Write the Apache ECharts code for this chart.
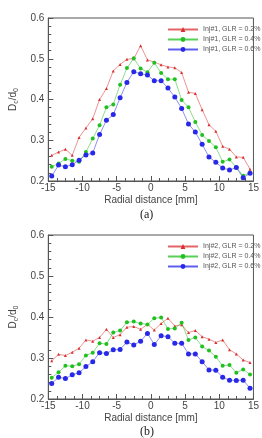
<!DOCTYPE html>
<html>
<head>
<meta charset="utf-8">
<script src="https://cdn.jsdelivr.net/npm/echarts@6/dist/echarts.min.js"></script>
<style>
  html, body { margin: 0; padding: 0; background: #fff; }
  #main { width: 262px; height: 438px; }
</style>
</head>
<body>
<div id="main"></div>
<script>
// radial positions [mm]
var radial = [-14.5, -13.5, -12.5, -11.5, -10.5, -9.5, -8.5, -7.5, -6.5, -5.5,
              -4.5, -3.5, -2.5, -1.5, -0.5, 0.5, 1.5, 2.5, 3.5, 4.5,
              5.5, 6.5, 7.5, 8.5, 9.5, 10.5, 11.5, 12.5, 13.5, 14.5];

// (a) Inj#1
var inj1_glr02 = [0.263, 0.271, 0.278, 0.263, 0.307, 0.330, 0.353, 0.400, 0.427, 0.470,
                  0.486, 0.499, 0.500, 0.532, 0.497, 0.492, 0.485, 0.480, 0.478, 0.466,
                  0.418, 0.415, 0.375, 0.338, 0.322, 0.285, 0.278, 0.259, 0.258, 0.229];
var inj1_glr04 = [0.235, 0.243, 0.254, 0.250, 0.247, 0.271, 0.304, 0.337, 0.381, 0.388,
                  0.436, 0.477, 0.501, 0.476, 0.467, 0.490, 0.465, 0.450, 0.450, 0.399,
                  0.381, 0.345, 0.313, 0.298, 0.283, 0.247, 0.253, 0.233, 0.213, 0.220];
var inj1_glr06 = [0.212, 0.239, 0.235, 0.240, 0.251, 0.264, 0.269, 0.314, 0.349, 0.363,
                  0.404, 0.442, 0.468, 0.463, 0.460, 0.446, 0.446, 0.428, 0.406, 0.378,
                  0.340, 0.320, 0.290, 0.259, 0.246, 0.232, 0.227, 0.233, 0.208, 0.219];

// (b) Inj#2
var inj2_glr02 = [0.293, 0.309, 0.306, 0.314, 0.324, 0.344, 0.341, 0.350, 0.370, 0.350,
                  0.357, 0.375, 0.377, 0.370, 0.382, 0.368, 0.384, 0.397, 0.378, 0.381,
                  0.362, 0.367, 0.352, 0.346, 0.338, 0.344, 0.320, 0.310, 0.295, 0.289];
var inj2_glr04 = [0.252, 0.265, 0.281, 0.280, 0.285, 0.306, 0.313, 0.336, 0.334, 0.362,
                  0.367, 0.387, 0.389, 0.384, 0.382, 0.397, 0.399, 0.371, 0.372, 0.386,
                  0.344, 0.350, 0.328, 0.318, 0.303, 0.281, 0.283, 0.264, 0.272, 0.260];
var inj2_glr06 = [0.238, 0.253, 0.250, 0.259, 0.264, 0.279, 0.291, 0.313, 0.311, 0.320,
                  0.321, 0.339, 0.332, 0.341, 0.360, 0.333, 0.354, 0.352, 0.336, 0.336,
                  0.310, 0.310, 0.291, 0.271, 0.270, 0.253, 0.246, 0.245, 0.246, 0.226];

var xTicks = [-15, -10, -5, 0, 5, 10, 15];
var yTicks = [0.2, 0.3, 0.4, 0.5, 0.6];

function pairs(vals) {
    return radial.map(function (x, i) { return [x, vals[i]]; });
}

var RED = '#d83030', GREEN = '#20c020', BLUE = '#2828e8';
var FONT = 'Liberation Sans';

function xAxisFor(gi) {
    return {
        gridIndex: gi, type: 'value',
        min: xTicks[0], max: xTicks[xTicks.length - 1], interval: 5,
        name: 'Radial distance [mm]', nameLocation: 'middle', nameGap: 14,
        nameTextStyle: { fontFamily: FONT, fontSize: 10, color: '#444' },
        axisLine: { onZero: false, lineStyle: { color: '#555', width: 1 } },
        axisTick: { inside: true, length: 5, lineStyle: { color: '#555' } },
        minorTick: { show: true, splitNumber: 4, length: 3, lineStyle: { color: '#555' } },
        axisLabel: { fontFamily: FONT, fontSize: 10, color: '#444', margin: 2 },
        splitLine: { show: false }
    };
}
function yAxisFor(gi) {
    return {
        gridIndex: gi, type: 'value',
        min: yTicks[0], max: yTicks[yTicks.length - 1], interval: 0.1,
        name: '{b|D}{s|c}{b|/d}{s|0}', nameLocation: 'middle', nameGap: 22, nameRotate: 90,
        nameTextStyle: {
            rich: {
                b: { fontFamily: FONT, fontSize: 10, color: '#444' },
                s: { fontFamily: FONT, fontSize: 7, color: '#444', padding: [6, 0, 0, 0] }
            }
        },
        axisLine: { onZero: false, lineStyle: { color: '#555', width: 1 } },
        axisTick: { inside: true, length: 5, lineStyle: { color: '#555' } },
        minorTick: { show: true, splitNumber: 5, length: 3, lineStyle: { color: '#555' } },
        axisLabel: { fontFamily: FONT, fontSize: 10, color: '#444', margin: 4 },
        splitLine: { show: false }
    };
}

function line(name, gi, vals, color, symbol, size) {
    return {
        name: name, type: 'line', xAxisIndex: gi, yAxisIndex: gi,
        data: pairs(vals),
        symbol: symbol, symbolSize: size,
        itemStyle: { color: color },
        lineStyle: { color: color, width: 0.7, opacity: 0.75 },
        animation: false
    };
}

var myChart = echarts.init(document.getElementById('main'));

var option = {
    backgroundColor: '#fff',
    title: [
        { text: '(a)', left: 135, top: 204, textStyle: { fontFamily: 'Liberation Serif', fontSize: 12, fontWeight: 'normal', color: '#222' } },
        { text: '(b)', left: 135, top: 421, textStyle: { fontFamily: 'Liberation Serif', fontSize: 12, fontWeight: 'normal', color: '#222' } }
    ],
    grid: [
        { left: 33, right: 6, top: 18, height: 163, show: true, borderColor: '#555', borderWidth: 1 },
        { left: 33, right: 6, top: 235, height: 164, show: true, borderColor: '#555', borderWidth: 1 }
    ],
    legend: [
        {
            orient: 'vertical', left: 162, top: 21, itemWidth: 30, itemHeight: 6, itemGap: 3,
            textStyle: { fontFamily: FONT, fontSize: 7, color: '#555' },
            data: ['Inj#1, GLR = 0.2%', 'Inj#1, GLR = 0.4%', 'Inj#1, GLR = 0.6%']
        },
        {
            orient: 'vertical', left: 162, top: 238, itemWidth: 30, itemHeight: 6, itemGap: 3,
            textStyle: { fontFamily: FONT, fontSize: 7, color: '#555' },
            data: ['Inj#2, GLR = 0.2%', 'Inj#2, GLR = 0.4%', 'Inj#2, GLR = 0.6%']
        }
    ],
    xAxis: [xAxisFor(0), xAxisFor(1)],
    yAxis: [yAxisFor(0), yAxisFor(1)],
    series: [
        line('Inj#1, GLR = 0.2%', 0, inj1_glr02, RED, 'triangle', 3),
        line('Inj#1, GLR = 0.4%', 0, inj1_glr04, GREEN, 'circle', 4),
        line('Inj#1, GLR = 0.6%', 0, inj1_glr06, BLUE, 'circle', 5),
        line('Inj#2, GLR = 0.2%', 1, inj2_glr02, RED, 'triangle', 3),
        line('Inj#2, GLR = 0.4%', 1, inj2_glr04, GREEN, 'circle', 4),
        line('Inj#2, GLR = 0.6%', 1, inj2_glr06, BLUE, 'circle', 5)
    ]
};

myChart.setOption(option);
</script>
</body>
</html>
